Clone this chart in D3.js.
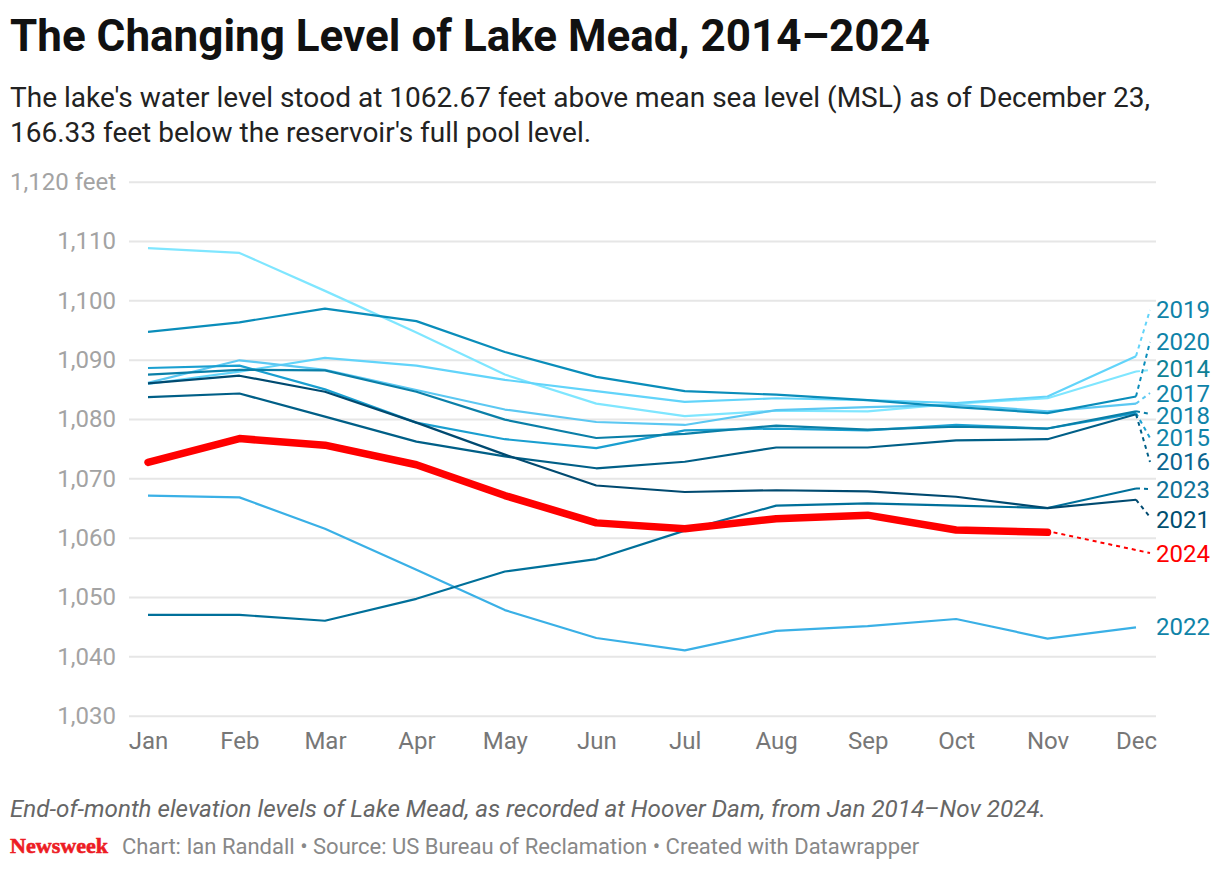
<!DOCTYPE html>
<html>
<head>
<meta charset="utf-8">
<title>Lake Mead</title>
<script src="https://cdn.jsdelivr.net/npm/d3@7"></script>
<style>
  body { margin: 0; background: #fff; }
  text { font-family: Roboto, sans-serif; }
</style>
</head>
<body>
<svg id="chart"></svg>
<script>
// month starts of a leap year, the x axis is a real time axis
var months = ["2024-01-01","2024-02-01","2024-03-01","2024-04-01","2024-05-01","2024-06-01",
              "2024-07-01","2024-08-01","2024-09-01","2024-10-01","2024-11-01","2024-12-01"];
var monthLabels = ["Jan","Feb","Mar","Apr","May","Jun","Jul","Aug","Sep","Oct","Nov","Dec"];
var yTicks = [1030,1040,1050,1060,1070,1080,1090,1100,1110,1120];

var y2014 = [1108.8,1108.0,1101.6,1094.6,1087.5,1082.6,1080.5,1081.4,1081.3,1082.6,1083.5,1088.0];
var y2015 = [1088.6,1089.0,1085.0,1079.4,1076.6,1075.1,1078.1,1078.4,1078.1,1079.0,1078.4,1081.0];
var y2016 = [1083.7,1084.3,1080.4,1076.2,1073.7,1071.7,1072.8,1075.2,1075.2,1076.4,1076.6,1080.8];
var y2017 = [1086.1,1089.9,1088.3,1084.9,1081.6,1079.5,1079.0,1081.5,1082.0,1082.4,1081.3,1082.6];
var y2018 = [1087.5,1088.3,1088.2,1084.6,1079.9,1076.8,1077.5,1078.9,1078.2,1078.7,1078.4,1081.3];
var y2019 = [1085.9,1088.0,1090.3,1089.0,1086.6,1084.7,1082.9,1083.5,1083.2,1082.7,1083.8,1090.6];
var y2020 = [1094.7,1096.3,1098.6,1096.5,1091.3,1087.1,1084.7,1084.1,1083.2,1082.0,1081.0,1083.8];
var y2021 = [1086.0,1087.3,1084.6,1079.4,1074.0,1068.8,1067.7,1068.0,1067.8,1066.9,1065.0,1066.4];
var y2022 = [1067.1,1066.8,1061.5,1054.6,1047.8,1043.1,1041.0,1044.3,1045.1,1046.3,1043.0,1044.9];
var y2023 = [1047.0,1047.0,1046.0,1049.7,1054.3,1056.4,1061.2,1065.4,1065.8,1065.4,1065.0,1068.3];
var y2024 = [1072.7,1076.7,1075.6,1072.3,1067.1,1062.5,1061.5,1063.2,1063.8,1061.3,1060.9];

var series = [
  {year: "2014", values: y2014, color: "#7fe6ff", label: "#0e8195", labelY: 369, endY: 370},
  {year: "2019", values: y2019, color: "#62d4fa", label: "#0f83a8", labelY: 310, endY: 310},
  {year: "2017", values: y2017, color: "#5cc8f2", label: "#0f83a8", labelY: 394, endY: 393},
  {year: "2022", values: y2022, color: "#3ab0e6", label: "#0f83a8", labelY: 627, endY: 627},
  {year: "2015", values: y2015, color: "#1a9fd0", label: "#0f83a8", labelY: 438, endY: 438},
  {year: "2020", values: y2020, color: "#0a8dba", label: "#0f83a8", labelY: 342, endY: 342},
  {year: "2018", values: y2018, color: "#0a7fa8", label: "#0f83a8", labelY: 416, endY: 414},
  {year: "2023", values: y2023, color: "#00709a", label: "#0f7096", labelY: 490, endY: 489},
  {year: "2016", values: y2016, color: "#005f87", label: "#0a6590", labelY: 462, endY: 462},
  {year: "2021", values: y2021, color: "#004a70", label: "#004f70", labelY: 520, endY: 517},
  {year: "2024", values: y2024, color: "#ff0000", label: "#ff0000", labelY: 554, endY: 553}
];

var width = 1220, height = 870;
var svg = d3.select("#chart").attr("width", width).attr("height", height).style("display", "block");

var parseDate = d3.timeParse("%Y-%m-%d");
var dates = months.map(parseDate);

var x = d3.scaleTime().domain([dates[0], dates[11]]).range([148, 1136]);
var y = d3.scaleLinear().domain([1030, 1120]).range([715.7, 181.7]);

// Header
svg.append("text").attr("x", 10).attr("y", 51)
  .style("font-size", "44px").style("font-weight", 700).style("fill", "#111")
  .text("The Changing Level of Lake Mead, 2014–2024");
svg.append("text").attr("x", 10).attr("y", 107)
  .style("font-size", "28px").style("fill", "#222")
  .text("The lake's water level stood at 1062.67 feet above mean sea level (MSL) as of December 23,");
svg.append("text").attr("x", 10).attr("y", 142)
  .style("font-size", "28px").style("fill", "#222")
  .text("166.33 feet below the reservoir's full pool level.");

// Y axis and gridlines
var yAxis = svg.append("g")
  .attr("transform", "translate(129,0)")
  .call(d3.axisLeft(y).tickValues(yTicks).tickSize(-1027).tickPadding(13)
    .tickFormat(function (d) { return d == 1120 ? "1,120 feet" : d3.format(",")(d); }));
yAxis.select(".domain").remove();
yAxis.selectAll("line").attr("stroke", "#e6e6e6").attr("stroke-width", 2);
yAxis.selectAll("text").style("font-size", "24px").style("fill", "#a3a3a3")
  .style("font-family", "Roboto, sans-serif");

// X axis labels
var xAxis = svg.append("g")
  .attr("transform", "translate(0,716)")
  .call(d3.axisBottom(x).tickValues(dates).tickSize(0).tickPadding(16)
    .tickFormat(function (d, i) { return monthLabels[i]; }));
xAxis.select(".domain").remove();
xAxis.selectAll("text").style("font-size", "24px").style("fill", "#777")
  .style("font-family", "Roboto, sans-serif");

var line = d3.line()
  .x(function (d, i) { return x(dates[i]); })
  .y(function (d) { return y(d); });

// Lines
svg.append("g").selectAll("path")
  .data(series)
  .enter()
  .append("path")
    .attr("d", function (d) { return line(d.values); })
    .attr("fill", "none")
    .attr("stroke", function (d) { return d.color; })
    .attr("stroke-width", function (d) { return d.year == "2024" ? 7.5 : 2.2; })
    .attr("stroke-linecap", function (d) { return d.year == "2024" ? "round" : "butt"; })
    .attr("stroke-linejoin", "round");

// Dotted connectors from last point to label (2022 has none)
svg.append("g").selectAll("line")
  .data(series.filter(function (d) { return d.year != "2022"; }))
  .enter()
  .append("line")
    .attr("x1", function (d) { return x(dates[d.values.length - 1]) + (d.year == "2024" ? 6 : 0); })
    .attr("y1", function (d) { return y(d.values[d.values.length - 1]); })
    .attr("x2", 1150)
    .attr("y2", function (d) { return d.endY; })
    .attr("stroke", function (d) { return d.color; })
    .attr("stroke-width", 2)
    .attr("stroke-dasharray", "4,4");

// Series labels
svg.append("g").selectAll("text")
  .data(series)
  .enter()
  .append("text")
    .attr("x", 1156)
    .attr("y", function (d) { return d.labelY; })
    .attr("dy", "0.35em")
    .style("font-size", "24px")
    .style("fill", function (d) { return d.label; })
    .text(function (d) { return d.year; });

// Footer
svg.append("text").attr("x", 10).attr("y", 817)
  .style("font-size", "24.2px").style("font-style", "italic").style("fill", "#666")
  .text("End-of-month elevation levels of Lake Mead, as recorded at Hoover Dam, from Jan 2014–Nov 2024.");
svg.append("text").attr("x", 10).attr("y", 853)
  .attr("textLength", 98).attr("lengthAdjust", "spacingAndGlyphs")
  .style("font-family", "'Liberation Serif', serif")
  .style("font-size", "22px").style("font-weight", 700).style("fill", "#ed1c24")
  .style("stroke", "#ed1c24").style("stroke-width", 0.6)
  .text("Newsweek");
svg.append("text").attr("x", 122).attr("y", 854)
  .style("font-size", "22px").style("fill", "#888")
  .text("Chart: Ian Randall • Source: US Bureau of Reclamation • Created with Datawrapper");
</script>
</body>
</html>
